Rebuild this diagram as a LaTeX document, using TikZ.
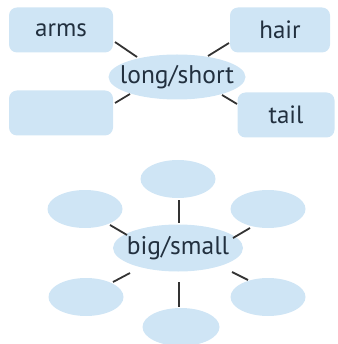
\documentclass[tikz,border=0pt]{standalone}
\usepackage{fontspec}
\setmainfont{PT Sans}
\usetikzlibrary{shapes.geometric}
\definecolor{bubble}{HTML}{CFE5F5}
\definecolor{ink}{HTML}{22303F}
\definecolor{stroke}{HTML}{333333}
\begin{document}
\begin{tikzpicture}[x=1pt,y=-1pt,
  box/.style={fill=bubble,rounded corners=8pt,minimum width=104pt,minimum height=45pt,inner sep=0pt,font=\fontsize{25}{27}\selectfont,text=ink},
  oval/.style={ellipse,fill=bubble,inner sep=0pt},
  ovaltext/.style={font=\fontsize{25.5}{27}\selectfont,text=ink},
  spoke/.style={draw=stroke,line width=1.8pt}]
\useasboundingbox (0,0) rectangle (337,344);
% top map
\node[box] (arms) at (61,30) {arms};
\node[box,minimum width=100pt] (hair) at (280,30) {hair};
\node[box] (blank) at (61,113) {};
\node[box,minimum width=97pt] (tail) at (286,115) {tail};
\node[oval,minimum width=137pt,minimum height=45pt,label={[ovaltext]center:long/short}] (ls) at (177,77) {};
\coordinate (a1) at (115,42); \coordinate (a2) at (137,57);
\coordinate (h1) at (229,43); \coordinate (h2) at (208,56);
\coordinate (b1) at (115,103); \coordinate (b2) at (130,94);
\coordinate (t1) at (237,104); \coordinate (t2) at (222,95);
\draw[spoke] (a1) -- (a2);
\draw[spoke] (h1) -- (h2);
\draw[spoke] (b1) -- (b2);
\draw[spoke] (t1) -- (t2);
% bottom map
\tikzset{small/.style={ellipse,fill=bubble,minimum width=75pt,minimum height=38pt,inner sep=0pt}}
\node[small] (n) at (178,179) {};
\node[small] (nw) at (85,209) {};
\node[small] (ne) at (268,209) {};
\node[small] (sw) at (86,297) {};
\node[small] (se) at (268,297) {};
\node[small,minimum width=77pt] (s) at (181,327) {};
\node[oval,minimum width=130pt,minimum height=47pt,label={[ovaltext]center:big/small}] (bs) at (178,248) {};
\coordinate (c1) at (179,200); \coordinate (c2) at (179,223);
\coordinate (d1) at (179,282); \coordinate (d2) at (179,307);
\coordinate (e1) at (110,225); \coordinate (e2) at (127,235);
\coordinate (f1) at (250,228); \coordinate (f2) at (233,238);
\coordinate (g1) at (113,282); \coordinate (g2) at (130,273);
\coordinate (k1) at (248,280); \coordinate (k2) at (232,272);
\draw[spoke] (c1) -- (c2);
\draw[spoke] (d1) -- (d2);
\draw[spoke] (e1) -- (e2);
\draw[spoke] (f1) -- (f2);
\draw[spoke] (g1) -- (g2);
\draw[spoke] (k1) -- (k2);
\end{tikzpicture}
\end{document}
